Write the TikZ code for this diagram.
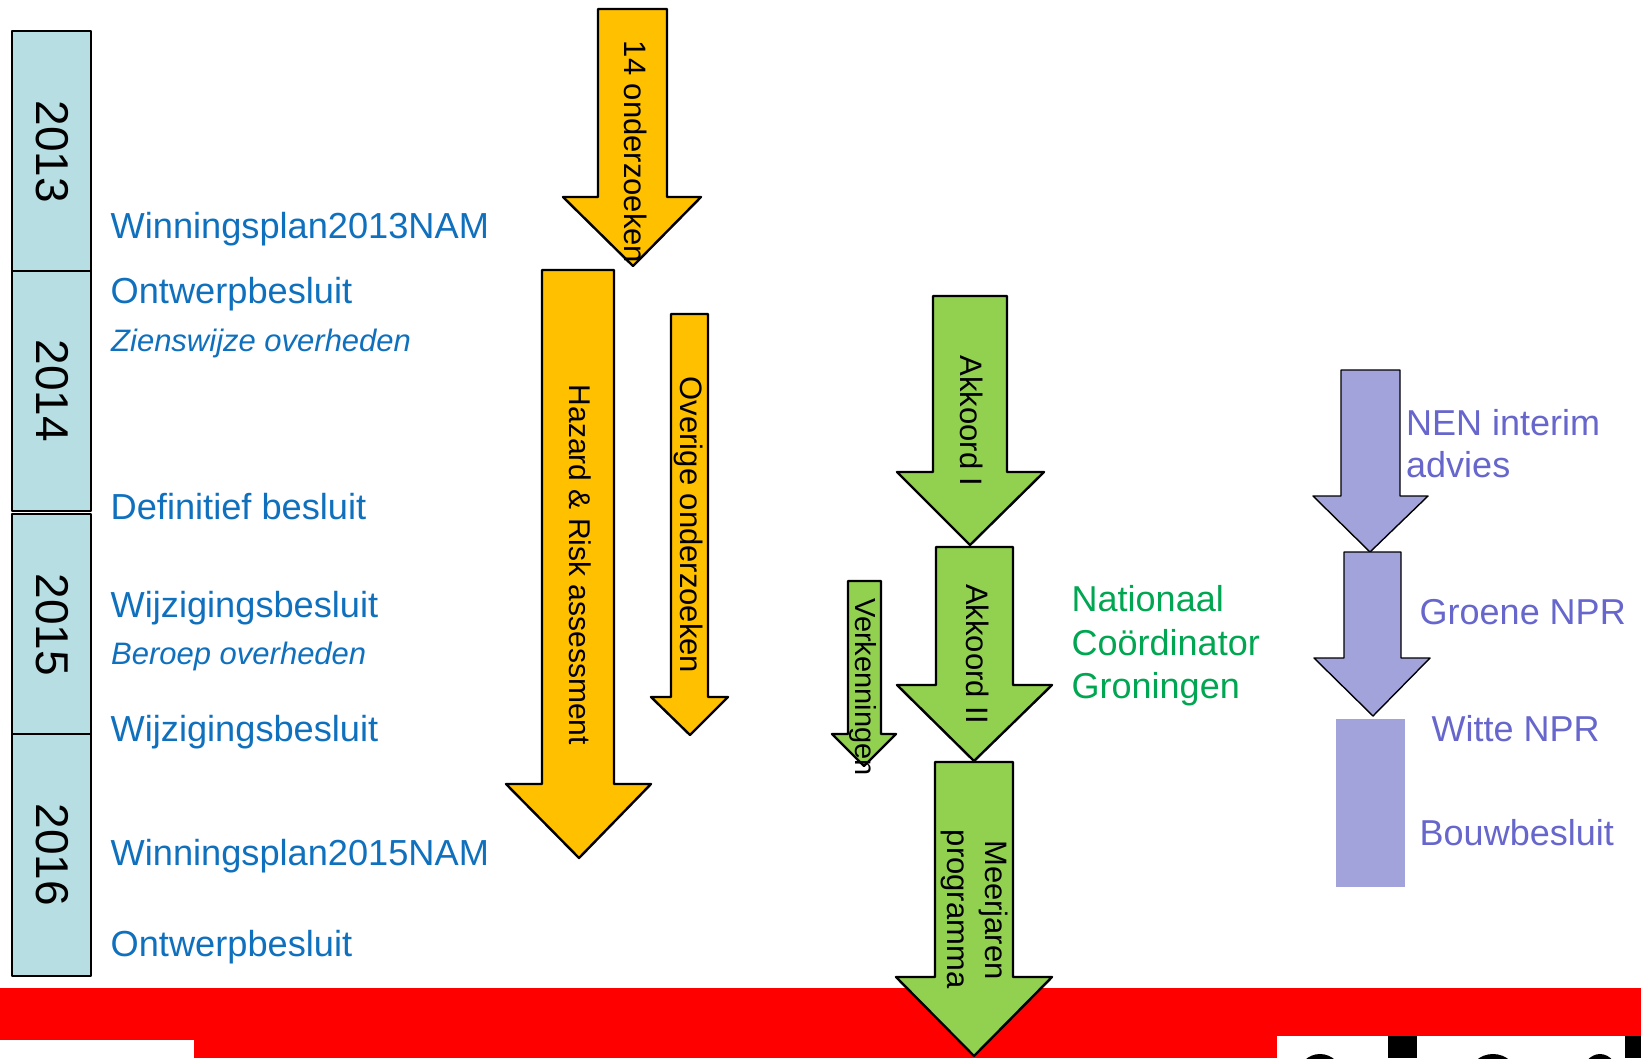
\documentclass[tikz,border=0pt]{standalone}
\usepackage{fontspec}
\setmainfont{Liberation Sans}
\definecolor{yearfill}{HTML}{B7DEE2}
\definecolor{orangefill}{HTML}{FFC000}
\definecolor{greenfill}{HTML}{92D050}
\definecolor{purplefill}{HTML}{A3A3DC}
\definecolor{bluetext}{HTML}{0F70BE}
\definecolor{greentext}{HTML}{00A651}
\definecolor{purpletext}{HTML}{6666CC}
\definecolor{bandred}{HTML}{FF0000}
\newcommand{\fs}[1]{\fontsize{#1}{#1}\selectfont}
% xL xR top shoulder headL headR tipX tipY style
\newcommand{\blockarrow}[9]{\draw[#9] (#1,#3) -- (#2,#3) -- (#2,#4) -- (#6,#4) -- (#7,#8) -- (#5,#4) -- (#1,#4) -- cycle;}
\tikzset{
  x=1pt,y=-1pt,
  yearbox/.style={draw=black,line width=2.2pt,line join=round,fill=yearfill},
  orangearrow/.style={draw=black,line width=2.4pt,line join=round,fill=orangefill},
  greenarrow/.style={draw=black,line width=2.4pt,line join=round,fill=greenfill},
  purplearrow/.style={draw=black,line width=1.4pt,line join=round,fill=purplefill},
  vert/.style={anchor=base,rotate=-90,inner sep=0pt,text=black},
  yearlabel/.style={vert,font=\fs{46}},
  bluelabel/.style={anchor=base west,inner sep=0pt,text=bluetext,font=\fs{36.2}},
  blueital/.style={anchor=base west,inner sep=0pt,text=bluetext,font=\fs{31}\itshape},
  greenlabel/.style={anchor=base west,inner sep=0pt,text=greentext,font=\fs{36}},
  purplelabel/.style={anchor=base west,inner sep=0pt,text=purpletext,font=\fs{36}},
}
\begin{document}
\begin{tikzpicture}
\useasboundingbox (0,0) rectangle (1641,1058);
\fill[white] (0,0) rectangle (1641,1058);
% bottom band
\fill[bandred] (0,988) rectangle (1641,1058);
\fill[white] (0,1040) rectangle (194,1058);
\fill[white] (1277,1036) rectangle (1641,1058);
\begin{scope}
\clip (1277,1036) rectangle (1641,1058);
\fill[black] (1388,1036) rectangle (1417,1058);
\fill[black] (1625,1036) rectangle (1641,1058);
\fill[black] (1320,1076) ellipse (22 and 22);
\fill[black] (1493,1076) ellipse (24 and 22);
\fill[black] (1600,1076) ellipse (18 and 22);
\end{scope}
% year column
\draw[yearbox] (12,31) rectangle (91,271);
\draw[yearbox] (12,271) rectangle (91,511);
\draw[yearbox] (12,514) rectangle (91,734);
\draw[yearbox] (12,734) rectangle (91,976);
\node[yearlabel] (y13) at (36,152) {2013};
\node[yearlabel] (y14) at (36,391) {2014};
\node[yearlabel] (y15) at (36,625) {2015};
\node[yearlabel] (y16) at (36,855) {2016};
% blue labels
\node[bluelabel] (t1) at (110.5,238) {Winningsplan2013NAM};
\node[bluelabel] (t2) at (110.5,303) {Ontwerpbesluit};
\node[blueital] (t3) at (111,351) {Zienswijze overheden};
\node[bluelabel] (t4) at (110.5,519) {Definitief besluit};
\node[bluelabel] (t5) at (110.5,617) {Wijzigingsbesluit};
\node[blueital] (t6) at (111,664.5) {Beroep overheden};
\node[bluelabel] (t7) at (110.5,741) {Wijzigingsbesluit};
\node[bluelabel] (t8) at (110.5,865.5) {Winningsplan2015NAM};
\node[bluelabel] (t9) at (110.5,956.5) {Ontwerpbesluit};
% orange arrows
\blockarrow{598}{667}{9}{197}{563}{701}{633}{266}{orangearrow}
\blockarrow{542}{614}{270}{784}{506}{651}{579}{858}{orangearrow}
\blockarrow{671}{708}{314}{697}{651}{728}{690}{735}{orangearrow}
\node[vert,font=\fs{31}] (a1) at (624,152) {14 onderzoeken};
\node[vert,font=\fs{30}] (a2) at (569.5,565) {Hazard \& Risk assessment};
\node[vert,font=\fs{31}] (a3) at (680,525) {Overige onderzoeken};
% green arrows
\blockarrow{935}{1013}{762}{977}{896}{1052}{974}{1056}{greenarrow}
\blockarrow{936}{1013}{547}{685}{897}{1052}{974}{761}{greenarrow}
\blockarrow{933}{1007}{296}{472}{897}{1044}{970}{545}{greenarrow}
\blockarrow{848}{881}{581}{734}{832}{896}{864}{766}{greenarrow}
\node[vert,font=\fs{31}] (g1) at (960,421) {Akkoord I};
\node[vert,font=\fs{31}] (g2) at (966,654) {Akkoord II};
\node[vert,font=\fs{29}] (g3) at (855,687) {Verkenningen};
\node[vert,font=\fs{31}] (g4) at (985,910) {Meerjaren};
\node[vert,font=\fs{31}] (g5) at (947,909) {programma};
\node[greenlabel] (g6) at (1071.5,611) {Nationaal};
\node[greenlabel] (g7) at (1071.5,655) {Coördinator};
\node[greenlabel] (g8) at (1071.5,698) {Groningen};
% purple arrows
\blockarrow{1341}{1400}{370}{496}{1313}{1428}{1370}{552}{purplearrow}
\blockarrow{1344}{1401}{552}{658}{1314}{1430}{1373}{716}{purplearrow}
\fill[purplefill] (1336,719) rectangle (1405,886.5);
\node[purplelabel] (p1) at (1406,435) {NEN interim};
\node[purplelabel] (p2) at (1406,477) {advies};
\node[purplelabel] (p3) at (1419.5,624) {Groene NPR};
\node[purplelabel] (p4) at (1431.5,741) {Witte NPR};
\node[purplelabel] (p5) at (1419.5,845) {Bouwbesluit};
\end{tikzpicture}
\end{document}
